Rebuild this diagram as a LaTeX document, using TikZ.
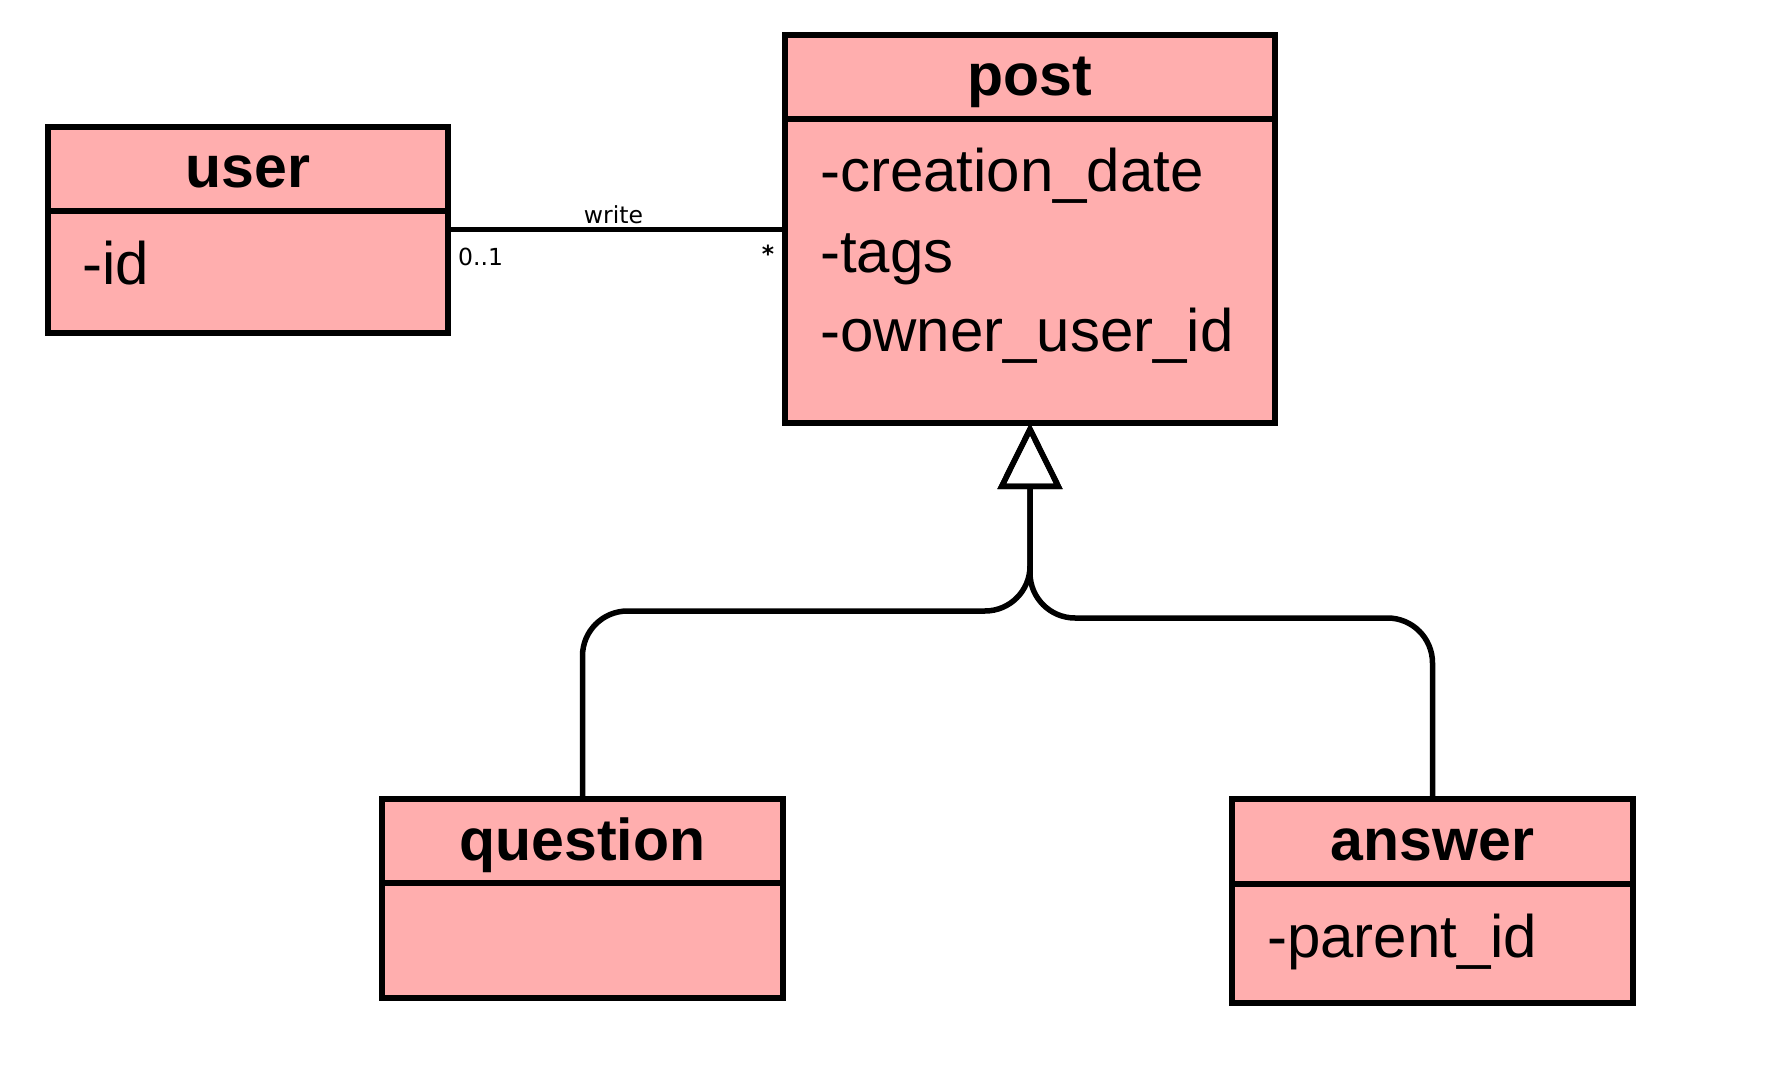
\documentclass[tikz,border=0pt]{standalone}
\usepackage{fontspec}
\usepackage{tikz}
\usetikzlibrary{arrows.meta,calc}
\newfontfamily\boxfont{Liberation Sans}
\newfontfamily\smallfont{DejaVu Sans}
\definecolor{classpink}{RGB}{255,174,174}

\tikzset{
  classhead/.style={draw, fill=classpink, line width=5.5pt, anchor=north west, inner sep=0pt, outer sep=0pt,
    font=\boxfont\bfseries\fontsize{59}{70}\selectfont, text height=44pt, text depth=6pt},
  classbody/.style={draw, fill=classpink, line width=5.5pt, anchor=north west, inner sep=0pt, outer sep=0pt},
  attr/.style={anchor=base west, inner sep=0pt, font=\boxfont\fontsize{60}{72}\selectfont},
  multlabel/.style={inner sep=0pt, font=\smallfont\fontsize{23.5}{28}\selectfont},
  assocline/.style={line width=5pt},
  genline/.style={line width=5.5pt, rounded corners=45pt, -{Triangle[open, length=66pt, width=64pt]}}
}

\begin{document}
\begin{tikzpicture}[x=1pt, y=-1pt]
    \useasboundingbox (0,0) rectangle (1789,1083);

    % user class
    \node[classhead, minimum width=400pt, minimum height=84pt] (userhead) at (48,127) {user};
    \node[classbody, minimum width=400pt, minimum height=122pt] (userbody) at (userhead.south west) {};
    \node[attr] (userid) at (82,285) {-id};

    % post class
    \node[classhead, minimum width=490pt, minimum height=84pt] (posthead) at (785,35) {post};
    \node[classbody, minimum width=490pt, minimum height=304pt] (postbody) at (posthead.south west) {};
    \node[attr] (postdate) at (820,192) {-creation\_date};
    \node[attr] (posttags) at (820,273) {-tags};
    \node[attr] (postowner) at (820,352) {-owner\_user\_id};

    % question class
    \node[classhead, minimum width=401pt, minimum height=84pt] (questhead) at (382,799) {question};
    \node[classbody, minimum width=401pt, minimum height=115pt] (questbody) at (questhead.south west) {};

    % answer class
    \node[classhead, minimum width=401pt, minimum height=85pt] (answerhead) at (1232,799) {answer};
    \node[classbody, minimum width=401pt, minimum height=119pt] (answerbody) at (answerhead.south west) {};
    \node[attr] (answerparent) at (1267,957) {-parent\_id};

    % write association
    \coordinate (wl) at ([yshift=-19pt]userbody.north east);
    \coordinate (wr) at (wl -| postbody.west);
    \draw[assocline] (wl) -- (wr);
    \node[multlabel] (writelabel) at ($(wl)!0.5!(wr)+(-3,-15)$) {write};
    \node[multlabel, anchor=west] (multuser) at ($(wl)+(10,27)$) {0..1};
    \node[multlabel] (multpost) at ($(wr)+(-17,24)$) {\bfseries *};

    % generalisation
    \draw[genline] (questhead.north) |- ([yshift=-188pt]postbody.south) -- (postbody.south);
    \draw[genline] (answerhead.north) |- ([yshift=-195pt]postbody.south) -- (postbody.south);
\end{tikzpicture}
\end{document}
